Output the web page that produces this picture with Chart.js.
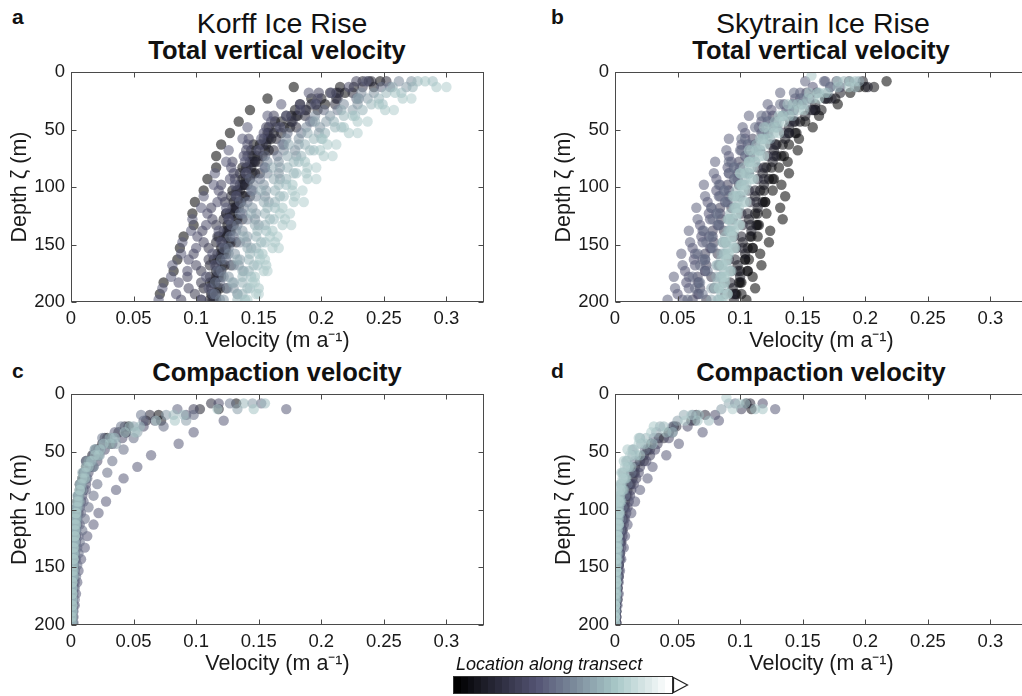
<!DOCTYPE html>
<html>
<head>
<meta charset="utf-8">
<script src="https://cdn.jsdelivr.net/npm/chart.js@4.4.1/dist/chart.umd.min.js"></script>
<style>
  html, body { margin: 0; padding: 0; background: #fff; }
  body { width: 1022px; height: 696px; overflow: hidden; position: relative;
         font-family: "Liberation Sans", Arial, Helvetica, sans-serif; color: #111; }
  canvas { position: absolute; }
  .lbl { position: absolute; white-space: nowrap; }
  .letter { font-weight: bold; font-size: 21px; line-height: 21px; }
  .site { font-size: 28.5px; line-height: 28px; transform: translateX(-50%); }
  .ttl { font-weight: bold; font-size: 25.5px; line-height: 25px; transform: translateX(-50%); }
  #cbar { position: absolute; left: 453px; top: 676px; width: 218px; height: 16px; border: 1px solid #333; }
  #cbarLabel { font-style: italic; font-size: 18px; line-height: 18px; }
</style>
</head>
<body>
<div class="lbl letter" style="left:12px; top:6px">a</div>
<div class="lbl site" style="left:282px; top:9px">Korff Ice Rise</div>
<div class="lbl ttl" style="left:277px; top:38px">Total vertical velocity</div>
<div class="lbl letter" style="left:551px; top:6px">b</div>
<div class="lbl site" style="left:823px; top:9px">Skytrain Ice Rise</div>
<div class="lbl ttl" style="left:821px; top:38px">Total vertical velocity</div>
<div class="lbl letter" style="left:12px; top:360px">c</div>
<div class="lbl ttl" style="left:277px; top:360px">Compaction velocity</div>
<div class="lbl letter" style="left:551px; top:360px">d</div>
<div class="lbl ttl" style="left:821px; top:360px">Compaction velocity</div>

<canvas id="korffTotal" width="500" height="310" style="left:0; top:55px"></canvas>
<canvas id="skytrainTotal" width="500" height="310" style="left:544px; top:55px"></canvas>
<canvas id="korffCompaction" width="500" height="311" style="left:0; top:377px"></canvas>
<canvas id="skytrainCompaction" width="500" height="311" style="left:544px; top:377px"></canvas>

<div class="lbl" id="cbarLabel" style="left:456px; top:655px">Location along transect</div>
<div id="cbar"></div>
<svg style="position:absolute; left:672px; top:676px" width="18" height="18">
  <polygon points="1.5,1.5 15.5,9 1.5,16.5" fill="#fff" stroke="#222" stroke-width="1.2"/>
</svg>

<script>
const FONT = '"Liberation Sans", Arial, Helvetica, sans-serif';

// depth levels (m) of the two interleaved sampling grids
const depthsA = [8, 18, 28, 38, 48, 58, 68, 78, 88, 98, 108, 118, 128, 138, 148, 158, 168, 178, 188, 198];
const depthsB = [3, 13, 23, 33, 43, 53, 63, 73, 83, 93, 103, 113, 123, 133, 143, 153, 163, 173, 183, 193];

const velocityTicks = [0, 0.05, 0.1, 0.15, 0.2, 0.25, 0.3];
const depthTicks = [0, 50, 100, 150, 200];

// -------- a: Korff, total vertical velocity (m/a), one row per site --------
const korffTotal = [
  [null, 0.178, 0.157, 0.143, 0.134, 0.127, 0.12, 0.116, 0.116, 0.109, 0.106, 0.099, 0.097, 0.098, 0.09, 0.087, 0.085, 0.082, 0.074, 0.071],
  [null, 0.19, 0.168, 0.157, 0.141, 0.137, 0.126, 0.124, 0.115, 0.114, 0.106, 0.104, 0.097, 0.096, 0.089, 0.088, 0.081, 0.08, 0.073, 0.07],
  [null, 0.222, 0.197, 0.183, 0.16, 0.154, 0.141, 0.138, 0.128, 0.127, 0.118, 0.117, 0.109, 0.108, 0.101, 0.1, 0.094, 0.093, 0.086, 0.084],
  [0.233, 0.207, 0.183, 0.172, 0.158, 0.154, 0.144, 0.143, 0.135, 0.135, 0.128, 0.129, 0.122, 0.122, 0.116, 0.117, 0.111, 0.111, 0.106, 0.104],
  [null, 0.242, 0.212, 0.197, 0.176, 0.168, 0.156, 0.153, 0.144, 0.143, 0.135, 0.136, 0.129, 0.13, 0.124, 0.124, 0.119, 0.12, 0.115, 0.116],
  [0.247, 0.219, 0.203, 0.181, 0.175, 0.16, 0.158, 0.147, 0.147, 0.139, 0.139, 0.132, 0.133, 0.127, 0.128, 0.122, 0.123, 0.118, 0.119, 0.114],
  [null, 0.233, 0.213, 0.187, 0.177, 0.158, 0.153, 0.141, 0.141, 0.131, 0.132, 0.123, 0.124, 0.116, 0.117, 0.11, 0.11, 0.104, 0.104, 0.099],
  [0.228, 0.198, 0.183, 0.162, 0.156, 0.142, 0.14, 0.129, 0.13, 0.12, 0.121, 0.112, 0.113, 0.105, 0.106, 0.098, 0.1, 0.093, 0.094, 0.088],
  [null, 0.248, 0.228, 0.202, 0.191, 0.173, 0.169, 0.155, 0.155, 0.143, 0.145, 0.135, 0.137, 0.128, 0.13, 0.122, 0.124, 0.117, 0.119, 0.113],
  [0.262, 0.232, 0.218, 0.195, 0.188, 0.172, 0.17, 0.157, 0.157, 0.146, 0.148, 0.138, 0.141, 0.132, 0.135, 0.126, 0.13, 0.122, 0.125, 0.119],
  [null, 0.268, 0.237, 0.225, 0.204, 0.198, 0.182, 0.18, 0.167, 0.167, 0.156, 0.158, 0.148, 0.15, 0.141, 0.144, 0.135, 0.138, 0.13, 0.133],
  [0.277, 0.252, 0.24, 0.218, 0.211, 0.194, 0.191, 0.178, 0.178, 0.166, 0.167, 0.157, 0.159, 0.149, 0.152, 0.143, 0.146, 0.137, 0.141, 0.133],
  [null, 0.292, 0.265, 0.251, 0.229, 0.222, 0.205, 0.202, 0.189, 0.189, 0.177, 0.178, 0.167, 0.169, 0.159, 0.161, 0.151, 0.154, 0.145, 0.148],
  [0.283, 0.259, 0.246, 0.225, 0.218, 0.201, 0.199, 0.187, 0.188, 0.177, 0.179, 0.169, 0.171, 0.161, 0.163, 0.153, 0.156, 0.147, 0.15, 0.141],
  [null, 0.257, 0.229, 0.216, 0.195, 0.189, 0.174, 0.173, 0.161, 0.162, 0.152, 0.154, 0.144, 0.147, 0.138, 0.141, 0.133, 0.137, 0.129, 0.133],
  [0.252, 0.225, 0.211, 0.187, 0.18, 0.164, 0.162, 0.15, 0.151, 0.141, 0.143, 0.134, 0.137, 0.128, 0.132, 0.124, 0.128, 0.12, 0.124, 0.116],
  [null, 0.3, 0.272, 0.258, 0.237, 0.229, 0.212, 0.209, 0.196, 0.196, 0.185, 0.186, 0.175, 0.176, 0.165, 0.166, 0.155, 0.157, 0.147, 0.15],
  [0.272, 0.242, 0.229, 0.207, 0.199, 0.182, 0.179, 0.166, 0.166, 0.154, 0.155, 0.145, 0.147, 0.137, 0.14, 0.131, 0.134, 0.126, 0.13, 0.122],
  [null, 0.226, 0.2, 0.188, 0.168, 0.162, 0.151, 0.149, 0.14, 0.14, 0.133, 0.134, 0.127, 0.128, 0.122, 0.123, 0.117, 0.118, 0.113, 0.113],
  [0.238, 0.212, 0.196, 0.176, 0.17, 0.157, 0.155, 0.145, 0.145, 0.137, 0.138, 0.131, 0.132, 0.125, 0.126, 0.12, 0.121, 0.116, 0.117, 0.111],
  [null, 0.215, 0.192, 0.179, 0.163, 0.157, 0.146, 0.145, 0.137, 0.137, 0.129, 0.13, 0.124, 0.125, 0.118, 0.12, 0.114, 0.116, 0.111, 0.112],
  [0.236, 0.208, 0.195, 0.172, 0.167, 0.152, 0.15, 0.139, 0.14, 0.131, 0.132, 0.124, 0.126, 0.118, 0.12, 0.113, 0.115, 0.108, 0.11, 0.104],
  [null, 0.273, 0.246, 0.233, 0.21, 0.203, 0.187, 0.184, 0.173, 0.172, 0.163, 0.163, 0.155, 0.155, 0.148, 0.148, 0.142, 0.142, 0.137, 0.137],
  [0.289, 0.264, 0.249, 0.227, 0.216, 0.2, 0.194, 0.182, 0.18, 0.172, 0.17, 0.163, 0.162, 0.156, 0.155, 0.15, 0.149, 0.144, 0.143, 0.139],
  [null, 0.255, 0.23, 0.213, 0.193, 0.184, 0.17, 0.165, 0.155, 0.151, 0.144, 0.141, 0.135, 0.133, 0.127, 0.126, 0.12, 0.12, 0.115, 0.115],
  [0.24, 0.214, 0.192, 0.18, 0.164, 0.158, 0.148, 0.146, 0.139, 0.138, 0.132, 0.132, 0.126, 0.126, 0.121, 0.121, 0.116, 0.117, 0.112, 0.113]
];
const korffTotalShade = [0, 0.4, 0.35, 0.15, 0.1, 0.03, 0.25, 0.3, 0.45, 0.55, 0.62, 0.7, 0.76, 0.74, 0.66, 0.2, 0.78, 0.58, 0.08, 0.12, 0.05, 0.4, 0.68, 0.72, 0.5, 0.18];

// -------- b: Skytrain, total vertical velocity (m/a) --------
const skytrainTotal = [
  [null, 0.207, 0.176, 0.165, 0.148, 0.145, 0.134, 0.133, 0.125, 0.126, 0.119, 0.12, 0.114, 0.115, 0.109, 0.11, 0.104, 0.106, 0.1, 0.101],
  [0.198, 0.18, 0.16, 0.152, 0.139, 0.136, 0.127, 0.126, 0.118, 0.119, 0.112, 0.114, 0.107, 0.109, 0.102, 0.104, 0.098, 0.1, 0.094, 0.095],
  [null, 0.192, 0.168, 0.156, 0.14, 0.135, 0.124, 0.122, 0.114, 0.114, 0.107, 0.108, 0.101, 0.102, 0.095, 0.097, 0.091, 0.093, 0.087, 0.088],
  [0.177, 0.153, 0.142, 0.126, 0.121, 0.11, 0.108, 0.099, 0.098, 0.09, 0.091, 0.084, 0.085, 0.078, 0.079, 0.072, 0.073, 0.066, 0.068, 0.062],
  [null, 0.158, 0.144, 0.125, 0.117, 0.104, 0.101, 0.091, 0.09, 0.081, 0.081, 0.074, 0.075, 0.068, 0.069, 0.062, 0.063, 0.056, 0.057, 0.05],
  [0.152, 0.132, 0.122, 0.107, 0.102, 0.091, 0.089, 0.08, 0.079, 0.071, 0.072, 0.065, 0.066, 0.059, 0.06, 0.053, 0.054, 0.047, 0.048, 0.042],
  [null, 0.172, 0.148, 0.137, 0.122, 0.117, 0.106, 0.104, 0.095, 0.095, 0.087, 0.088, 0.081, 0.082, 0.075, 0.076, 0.07, 0.072, 0.066, 0.067],
  [0.192, 0.163, 0.15, 0.134, 0.129, 0.118, 0.116, 0.107, 0.107, 0.1, 0.101, 0.095, 0.097, 0.091, 0.093, 0.087, 0.089, 0.084, 0.087, 0.082],
  [0.157, 0.187, 0.158, 0.147, 0.131, 0.127, 0.117, 0.116, 0.108, 0.109, 0.102, 0.103, 0.097, 0.099, 0.093, 0.095, 0.089, 0.092, 0.087, 0.09],
  [0.183, 0.162, 0.142, 0.134, 0.121, 0.118, 0.109, 0.108, 0.1, 0.101, 0.094, 0.096, 0.09, 0.092, 0.086, 0.088, 0.082, 0.085, 0.08, 0.083],
  [null, 0.202, 0.173, 0.16, 0.144, 0.139, 0.128, 0.127, 0.119, 0.119, 0.112, 0.113, 0.106, 0.108, 0.101, 0.102, 0.096, 0.098, 0.092, 0.094],
  [0.167, 0.143, 0.132, 0.117, 0.112, 0.101, 0.1, 0.091, 0.091, 0.083, 0.084, 0.077, 0.078, 0.071, 0.073, 0.066, 0.068, 0.062, 0.064, 0.058],
  [null, 0.192, 0.163, 0.151, 0.135, 0.131, 0.12, 0.119, 0.11, 0.111, 0.104, 0.105, 0.098, 0.1, 0.094, 0.096, 0.09, 0.093, 0.088, 0.09],
  [0.187, 0.161, 0.149, 0.134, 0.129, 0.118, 0.116, 0.107, 0.107, 0.099, 0.1, 0.093, 0.094, 0.087, 0.088, 0.082, 0.083, 0.077, 0.079, 0.073],
  [null, 0.172, 0.15, 0.139, 0.123, 0.118, 0.107, 0.105, 0.096, 0.096, 0.088, 0.089, 0.082, 0.083, 0.077, 0.078, 0.072, 0.074, 0.068, 0.07],
  [0.217, 0.188, 0.178, 0.163, 0.158, 0.147, 0.146, 0.138, 0.139, 0.133, 0.136, 0.132, 0.134, 0.124, 0.123, 0.116, 0.117, 0.11, 0.112, 0.105],
  [null, 0.2, 0.17, 0.16, 0.152, 0.144, 0.139, 0.135, 0.131, 0.127, 0.126, 0.12, 0.121, 0.113, 0.114, 0.106, 0.107, 0.1, 0.101, 0.096],
  [0.188, 0.168, 0.146, 0.139, 0.126, 0.122, 0.113, 0.112, 0.104, 0.105, 0.098, 0.099, 0.093, 0.095, 0.089, 0.091, 0.086, 0.088, 0.083, 0.086],
  [null, 0.178, 0.154, 0.142, 0.128, 0.123, 0.113, 0.111, 0.103, 0.104, 0.097, 0.098, 0.092, 0.094, 0.088, 0.09, 0.085, 0.087, 0.082, 0.085],
  [0.168, 0.148, 0.135, 0.121, 0.115, 0.104, 0.101, 0.093, 0.091, 0.084, 0.083, 0.077, 0.076, 0.07, 0.07, 0.064, 0.064, 0.059, 0.059, 0.054],
  [null, 0.195, 0.168, 0.158, 0.143, 0.139, 0.129, 0.129, 0.121, 0.123, 0.116, 0.118, 0.112, 0.114, 0.108, 0.11, 0.104, 0.106, 0.099, 0.097],
  [0.178, 0.155, 0.138, 0.131, 0.119, 0.116, 0.107, 0.107, 0.1, 0.101, 0.095, 0.097, 0.091, 0.093, 0.088, 0.09, 0.085, 0.087, 0.083, 0.085],
  [null, 0.18, 0.156, 0.143, 0.129, 0.122, 0.112, 0.108, 0.1, 0.098, 0.091, 0.09, 0.084, 0.083, 0.078, 0.077, 0.072, 0.072, 0.067, 0.066],
  [0.195, 0.17, 0.152, 0.142, 0.13, 0.124, 0.115, 0.112, 0.105, 0.103, 0.097, 0.096, 0.091, 0.09, 0.086, 0.085, 0.081, 0.081, 0.077, 0.077]
];
const skytrainTotalShade = [0.05, 0.1, 0.2, 0.3, 0.38, 0.42, 0.35, 0.72, 0.76, 0.7, 0.15, 0.45, 0.78, 0.25, 0.5, 0, 0, 0.74, 0.7, 0.4, 0.02, 0.76, 0.33, 0.65];

// -------- c: Korff, compaction velocity (m/a) --------
const korffCompaction = [
  [null, 0.172, 0.122, 0.098, 0.086, 0.064, 0.053, 0.042, 0.036, 0.028, 0.022, 0.018, 0.013, 0.011, 0.008, 0.006, 0.005, 0.004, 0.003, 0.002],
  [0.152, 0.098, 0.074, 0.05, 0.042, 0.033, 0.029, 0.021, 0.018, 0.014, 0.011, 0.009, 0.007, 0.006, 0.005, 0.004, 0.003, 0.003, 0.002, 0.002],
  [null, 0.118, 0.072, 0.044, 0.031, 0.019, 0.015, 0.01, 0.008, 0.006, 0.005, 0.004, 0.003, 0.003, 0.002, 0.002, 0.001, 0.001, 0.001, 0.001],
  [0.112, 0.063, 0.043, 0.027, 0.02, 0.012, 0.01, 0.007, 0.006, 0.005, 0.004, 0.003, 0.003, 0.002, 0.002, 0.001, 0.001, 0.001, 0.001, 0.001],
  [null, 0.146, 0.083, 0.051, 0.031, 0.022, 0.014, 0.011, 0.007, 0.006, 0.004, 0.004, 0.003, 0.002, 0.002, 0.002, 0.001, 0.001, 0.001, 0.001],
  [0.138, 0.082, 0.047, 0.031, 0.019, 0.014, 0.009, 0.007, 0.005, 0.004, 0.003, 0.003, 0.002, 0.002, 0.001, 0.001, 0.001, 0.001, 0.001, 0.001],
  [null, 0.098, 0.067, 0.044, 0.033, 0.022, 0.018, 0.012, 0.01, 0.008, 0.006, 0.005, 0.004, 0.003, 0.003, 0.002, 0.002, 0.001, 0.001, 0.001],
  [0.132, 0.07, 0.046, 0.029, 0.022, 0.014, 0.011, 0.008, 0.006, 0.005, 0.004, 0.003, 0.002, 0.002, 0.002, 0.001, 0.001, 0.001, 0.001, 0.001],
  [null, 0.117, 0.068, 0.043, 0.026, 0.019, 0.012, 0.009, 0.007, 0.005, 0.004, 0.003, 0.003, 0.002, 0.002, 0.001, 0.001, 0.001, 0.001, 0],
  [0.118, 0.092, 0.058, 0.041, 0.027, 0.021, 0.014, 0.012, 0.009, 0.007, 0.005, 0.004, 0.004, 0.003, 0.002, 0.002, 0.002, 0.001, 0.001, 0.001],
  [null, 0.133, 0.092, 0.053, 0.036, 0.023, 0.018, 0.012, 0.009, 0.007, 0.005, 0.004, 0.003, 0.003, 0.002, 0.002, 0.001, 0.001, 0.001, 0.001],
  [0.127, 0.056, 0.04, 0.025, 0.019, 0.012, 0.01, 0.008, 0.006, 0.005, 0.004, 0.003, 0.002, 0.002, 0.002, 0.001, 0.001, 0.001, 0.001, 0.001],
  [null, 0.085, 0.058, 0.035, 0.026, 0.018, 0.017, 0.013, 0.012, 0.01, 0.008, 0.007, 0.006, 0.005, 0.004, 0.003, 0.003, 0.002, 0.002, 0.001],
  [0.155, 0.09, 0.055, 0.035, 0.023, 0.016, 0.011, 0.008, 0.006, 0.005, 0.004, 0.003, 0.003, 0.002, 0.002, 0.002, 0.001, 0.001, 0.001, 0],
  [null, 0.103, 0.06, 0.038, 0.025, 0.017, 0.012, 0.009, 0.007, 0.005, 0.004, 0.003, 0.003, 0.002, 0.002, 0.001, 0.001, 0.001, 0.001, 0],
  [0.145, 0.076, 0.05, 0.033, 0.024, 0.017, 0.012, 0.009, 0.007, 0.006, 0.005, 0.004, 0.003, 0.003, 0.002, 0.002, 0.001, 0.001, 0.001, 0.001]
];
const korffCompactionShade = [0.4, 0.45, 0.1, 0.2, 0.74, 0.7, 0.3, 0.05, 0.76, 0.35, 0.62, 0.5, 0.42, 0.72, 0.15, 0.6];

// -------- d: Skytrain, compaction velocity (m/a) --------
const skytrainCompaction = [
  [null, 0.128, 0.083, 0.07, 0.051, 0.041, 0.03, 0.026, 0.02, 0.016, 0.013, 0.01, 0.008, 0.007, 0.005, 0.004, 0.003, 0.003, 0.002, 0.001],
  [0.108, 0.072, 0.049, 0.039, 0.028, 0.023, 0.016, 0.013, 0.01, 0.008, 0.007, 0.006, 0.005, 0.004, 0.003, 0.003, 0.002, 0.002, 0.001, 0.001],
  [null, 0.118, 0.066, 0.041, 0.024, 0.017, 0.011, 0.008, 0.006, 0.004, 0.003, 0.003, 0.002, 0.002, 0.001, 0.001, 0.001, 0.001, 0, 0],
  [0.091, 0.055, 0.036, 0.02, 0.014, 0.009, 0.006, 0.005, 0.004, 0.003, 0.002, 0.002, 0.002, 0.001, 0.001, 0.001, 0.001, 0, 0, 0],
  [null, 0.109, 0.061, 0.043, 0.029, 0.023, 0.016, 0.014, 0.01, 0.008, 0.006, 0.005, 0.004, 0.003, 0.003, 0.002, 0.002, 0.001, 0.001, 0.001],
  [0.099, 0.061, 0.031, 0.019, 0.01, 0.007, 0.005, 0.004, 0.003, 0.002, 0.002, 0.001, 0.001, 0.001, 0.001, 0, 0, 0, 0, 0],
  [null, 0.101, 0.064, 0.046, 0.034, 0.028, 0.02, 0.017, 0.013, 0.011, 0.009, 0.007, 0.006, 0.005, 0.004, 0.003, 0.002, 0.002, 0.001, 0.001],
  [0.104, 0.067, 0.039, 0.025, 0.015, 0.01, 0.007, 0.005, 0.004, 0.003, 0.003, 0.002, 0.002, 0.002, 0.001, 0.001, 0.001, 0.001, 0, 0],
  [0.089, 0.094, 0.056, 0.029, 0.019, 0.012, 0.008, 0.006, 0.004, 0.003, 0.003, 0.002, 0.002, 0.001, 0.001, 0.001, 0.001, 0, 0, 0],
  [0.096, 0.062, 0.046, 0.031, 0.024, 0.016, 0.013, 0.01, 0.008, 0.006, 0.005, 0.004, 0.003, 0.003, 0.002, 0.002, 0.001, 0.001, 0.001, 0],
  [null, 0.112, 0.075, 0.046, 0.03, 0.02, 0.013, 0.009, 0.007, 0.005, 0.004, 0.003, 0.002, 0.002, 0.002, 0.001, 0.001, 0.001, 0, 0],
  [0.118, 0.08, 0.058, 0.043, 0.032, 0.025, 0.019, 0.015, 0.012, 0.01, 0.008, 0.006, 0.005, 0.004, 0.003, 0.003, 0.002, 0.002, 0.001, 0.001],
  [null, 0.085, 0.05, 0.033, 0.021, 0.014, 0.01, 0.007, 0.005, 0.004, 0.003, 0.003, 0.002, 0.002, 0.001, 0.001, 0.001, 0.001, 0, 0],
  [0.105, 0.065, 0.047, 0.035, 0.026, 0.02, 0.015, 0.012, 0.009, 0.007, 0.006, 0.005, 0.004, 0.003, 0.003, 0.002, 0.002, 0.001, 0.001, 0.001]
];
const skytrainCompactionShade = [0.4, 0.2, 0.74, 0.66, 0.1, 0.76, 0.3, 0.7, 0.78, 0.5, 0.72, 0.35, 0.62, 0.15];

// -------- bone colormap (MATLAB style) --------
function bone(t, alpha) {
    const clamp = v => Math.max(0, Math.min(1, v));
    const r = (7 * t + clamp((t - 0.75) / 0.25)) / 8;
    const g = (7 * t + clamp((t - 0.375) / 0.375)) / 8;
    const b = (7 * t + clamp(t / 0.375)) / 8;
    return `rgba(${Math.round(r * 255)},${Math.round(g * 255)},${Math.round(b * 255)},${alpha})`;
}

// -------- box + inward ticks on all four sides --------
const boxTicks = {
    id: 'boxTicks',
    afterDraw(chart) {
        const { ctx, chartArea: a, scales: { x, y } } = chart;
        const L = Math.round(a.left) + 0.5, R = Math.round(a.right) - 0.5;
        const T = Math.round(a.top) + 0.5, B = Math.round(a.bottom) - 0.5;
        ctx.save();
        ctx.strokeStyle = '#4a4a4a';
        ctx.lineWidth = 1;
        ctx.strokeRect(L, T, R - L, B - T);
        ctx.beginPath();
        x.ticks.forEach(t => {
            const px = Math.round(x.getPixelForValue(t.value)) + 0.5;
            ctx.moveTo(px, B); ctx.lineTo(px, B - 5);
            ctx.moveTo(px, T); ctx.lineTo(px, T + 5);
        });
        y.ticks.forEach(t => {
            const py = Math.round(y.getPixelForValue(t.value)) + 0.5;
            ctx.moveTo(L, py); ctx.lineTo(L + 5, py);
            ctx.moveTo(R, py); ctx.lineTo(R - 5, py);
        });
        ctx.stroke();
        ctx.restore();
    }
};

function buildChart(id, profiles, shades) {
    const datasets = profiles.map((vals, i) => {
        const grid = i % 2 === 0 ? depthsB : depthsA;
        const pts = [];
        vals.forEach((v, k) => { if (v !== null) pts.push({ x: v, y: grid[k] }); });
        return {
            data: pts,
            backgroundColor: bone(shades[i], 0.55),
            borderWidth: 0,
            pointRadius: 5.2,
            pointHoverRadius: 5.2,
            order: -shades[i],   // lighter sites drawn on top
            clip: 0
        };
    });

    return new Chart(document.getElementById(id), {
        type: 'scatter',
        data: { datasets },
        options: {
            responsive: false,
            animation: false,
            devicePixelRatio: 1,
            events: [],
            layout: { padding: { top: 12, right: 16, left: 0, bottom: 0 } },
            plugins: { legend: { display: false }, tooltip: { enabled: false } },
            scales: {
                x: {
                    type: 'linear', min: 0, max: 0.33,
                    grid: { display: false, drawTicks: false },
                    border: { display: false },
                    afterBuildTicks: s => { s.ticks = velocityTicks.map(v => ({ value: v })); },
                    afterFit: s => { s.height = 63; },
                    ticks: {
                        padding: 6, color: '#1a1a1a', autoSkip: false, maxRotation: 0,
                        font: { family: FONT, size: 18.5 },
                        callback: v => String(v)
                    },
                    title: {
                        display: true, text: 'Velocity (m a\u207B\u00B9)', color: '#1a1a1a',
                        font: { family: FONT, size: 21.5 }, padding: { top: 0, bottom: 11 }
                    }
                },
                y: {
                    type: 'linear', reverse: true, min: 0, max: 200,
                    grid: { display: false, drawTicks: false },
                    border: { display: false },
                    afterBuildTicks: s => { s.ticks = depthTicks.map(v => ({ value: v })); },
                    afterFit: s => { s.width = 71; },
                    ticks: {
                        padding: 6, color: '#1a1a1a', autoSkip: false,
                        font: { family: FONT, size: 18.5 },
                        callback: v => String(v)
                    },
                    title: {
                        display: true, text: 'Depth \u03B6 (m)', color: '#1a1a1a',
                        font: { family: FONT, size: 21.5 }, padding: { top: 7, bottom: 0 }
                    }
                }
            }
        },
        plugins: [boxTicks]
    });
}

buildChart('korffTotal', korffTotal, korffTotalShade);
buildChart('skytrainTotal', skytrainTotal, skytrainTotalShade);
buildChart('korffCompaction', korffCompaction, korffCompactionShade);
buildChart('skytrainCompaction', skytrainCompaction, skytrainCompactionShade);

// -------- colour bar --------
const steps = 32;
const stops = [];
for (let i = 0; i < steps; i++) {
    const c = bone(i / (steps - 1), 1);
    stops.push(`${c} ${(i / steps * 100).toFixed(2)}%`, `${c} ${((i + 1) / steps * 100).toFixed(2)}%`);
}
document.getElementById('cbar').style.background = `linear-gradient(to right, ${stops.join(', ')})`;
</script>
</body>
</html>
